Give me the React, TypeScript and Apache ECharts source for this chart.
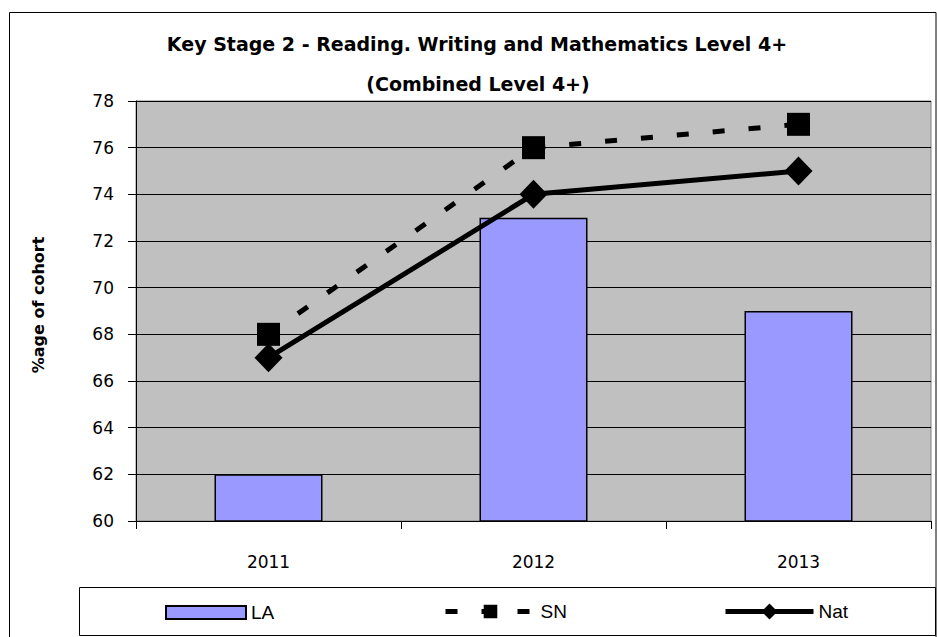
import React, { useEffect, useRef } from "react";
import * as echarts from "echarts";

const years = ["2011", "2012", "2013"];
const laValues = [62, 73, 69];
const snValues = [68, 76, 77];
const natValues = [67, 74, 75];

const titleLines = [
  "Key Stage 2 - Reading. Writing and Mathematics Level 4+",
  "(Combined Level 4+)",
];
const yAxisTitle = "%age of cohort";

const W = 937;
const H = 637;

export default function App() {
  const ref = useRef<HTMLDivElement>(null);

  useEffect(() => {
    if (!ref.current) return;
    const chart = echarts.init(ref.current, undefined, { renderer: "svg" });
    const axisFont = "'DejaVu Sans', Verdana, sans-serif";
    const legendFont = "'Liberation Sans', Arial, sans-serif";
    const legendText = { fontFamily: legendFont, fontSize: 19, color: "#000" };
    const titleFont = `bold 19px ${axisFont}`;

    chart.setOption({
      animation: false,
      backgroundColor: "#fff",
      graphic: [
        {
          type: "rect",
          shape: { x: 9.5, y: 12.5, width: 926.5, height: 640 },
          style: { fill: "none", stroke: "#000", lineWidth: 1 },
          silent: true,
          z: -1,
        },
        {
          type: "rect",
          shape: { x: 79.5, y: 587.5, width: 856, height: 48 },
          style: { fill: "none", stroke: "#000", lineWidth: 1 },
          silent: true,
        },
        {
          type: "text",
          x: 477,
          y: 44,
          style: {
            text: titleLines[0],
            font: titleFont,
            fill: "#000",
            align: "center",
            verticalAlign: "middle",
          },
          silent: true,
        },
        {
          type: "text",
          x: 478,
          y: 84,
          style: {
            text: titleLines[1],
            font: titleFont,
            fill: "#000",
            align: "center",
            verticalAlign: "middle",
          },
          silent: true,
        },
      ],
      legend: [
        {
          data: [{ name: "LA", icon: "rect" }],
          left: 160,
          top: 598,
          itemWidth: 80,
          itemHeight: 13,
          textStyle: legendText,
          selectedMode: false,
        },
        {
          data: ["SN"],
          left: 438,
          top: 597,
          itemWidth: 90,
          itemHeight: 17,
          lineStyle: { width: 5 },
          textStyle: legendText,
          selectedMode: false,
        },
        {
          data: ["Nat"],
          left: 718,
          top: 597,
          itemWidth: 88,
          itemHeight: 20,
          lineStyle: { width: 5 },
          textStyle: legendText,
          selectedMode: false,
        },
      ],
      grid: {
        left: 136,
        right: 6,
        top: 101,
        bottom: 116,
        show: true,
        backgroundColor: "#C0C0C0",
        borderColor: "#808080",
        borderWidth: 1,
      },
      xAxis: {
        type: "category",
        data: years,
        boundaryGap: true,
        axisLine: { lineStyle: { color: "#000", width: 1 } },
        axisTick: { show: true, length: 8, lineStyle: { color: "#000" } },
        axisLabel: {
          color: "#000",
          fontFamily: axisFont,
          fontSize: 17,
          margin: 32,
        },
      },
      yAxis: {
        type: "value",
        min: 60,
        max: 78,
        interval: 2,
        name: yAxisTitle,
        nameLocation: "middle",
        nameGap: 90,
        nameRotate: 90,
        nameTextStyle: {
          color: "#000",
          fontFamily: axisFont,
          fontWeight: "bold",
          fontSize: 16,
          padding: [0, 0, 0, 12],
        },
        axisLine: { show: true, lineStyle: { color: "#000", width: 1 } },
        axisTick: { show: true, length: 8, lineStyle: { color: "#000" } },
        axisLabel: {
          color: "#000",
          fontFamily: axisFont,
          fontSize: 17,
          margin: 22,
        },
        splitLine: { show: true, lineStyle: { color: "#000", width: 1 } },
      },
      series: [
        {
          name: "LA",
          type: "bar",
          data: laValues,
          barWidth: 108,
          itemStyle: { color: "#9999FF", borderColor: "#000", borderWidth: 1.5 },
          z: 2,
        },
        {
          name: "SN",
          type: "line",
          data: snValues,
          symbol: "rect",
          symbolSize: 23,
          lineStyle: { color: "#000", width: 5, type: [12, 24] },
          itemStyle: { color: "#000" },
          z: 3,
        },
        {
          name: "Nat",
          type: "line",
          data: natValues,
          symbol: "diamond",
          symbolSize: [28, 29],
          lineStyle: { color: "#000", width: 5 },
          itemStyle: { color: "#000" },
          z: 4,
        },
      ],
    });

    return () => chart.dispose();
  }, []);

  return (
    <div
      ref={ref}
      style={{ position: "fixed", left: 0, top: 0, width: W, height: H }}
    />
  );
}
